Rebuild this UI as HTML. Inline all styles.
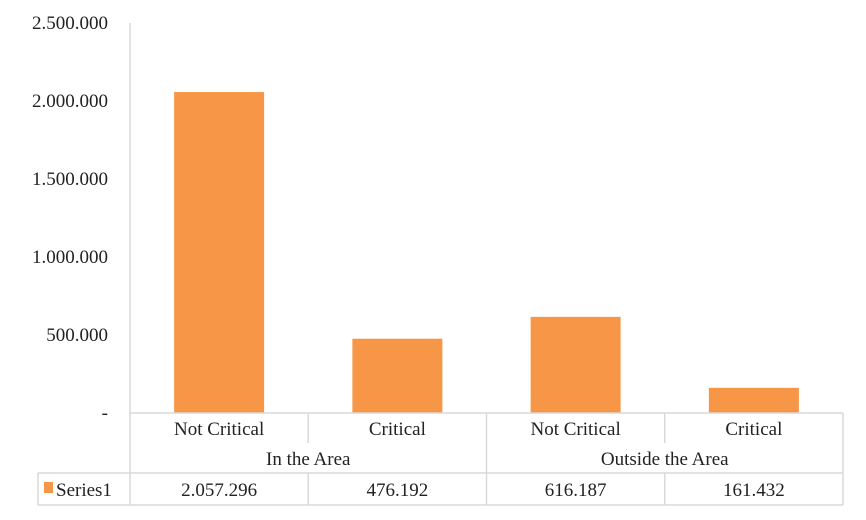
<!DOCTYPE html>
<html><head><meta charset="utf-8"><style>
body{margin:0;background:#fff;}
svg text{font-family:"Liberation Serif",serif;font-size:19px;fill:#222;}
</style></head><body>
<svg width="866" height="515">
<g id="axes"></g><g id="bars"></g><g id="table"></g>
</svg>
<script>
const categories=["Not Critical","Critical","Not Critical","Critical"];
const groups=["In the Area","Outside the Area"];
const values=[2057296,476192,616187,161432];
const valueLabels=["2.057.296","476.192","616.187","161.432"];
const ticks=[0,500000,1000000,1500000,2000000,2500000];
const tickLabels=["-","500.000","1.000.000","1.500.000","2.000.000","2.500.000"];
const NS="http://www.w3.org/2000/svg";
const x0=130,colW=178.25,y0=413,yTop=23,maxV=2500000;
const y=v=>y0-(v/maxV)*(y0-yTop);
const xc=i=>x0+colW*i+colW/2;
function mk(tag,attrs,parent,text){const e=document.createElementNS(NS,tag);for(const k in attrs)e.setAttribute(k,attrs[k]);if(text!==undefined)e.textContent=text;parent.appendChild(e);return e;}
const axes=document.getElementById('axes'),bars=document.getElementById('bars'),table=document.getElementById('table');
let l=mk('line',{x1:x0,x2:x0,y1:yTop,y2:y0,stroke:'#d9d9d9','stroke-width':1.5},axes);


ticks.forEach((t,i)=>{
 const tx=mk('text',{x:108,y:y(t)+6,'text-anchor':'end'},axes,tickLabels[i]);
 
 
});
values.forEach((v,i)=>{
 const r=mk('rect',{x:xc(i)-45,y:y(v),width:90,height:y0-y(v),fill:'#f79646'},bars);
 
 
});
const st={stroke:'#d9d9d9','stroke-width':1.5};
const xe=x0+colW*4;
mk('line',Object.assign({x1:x0,x2:xe,y1:y0,y2:y0},st),table);
mk('line',Object.assign({x1:38,x2:xe,y1:473,y2:473},st),table);
mk('line',Object.assign({x1:38,x2:xe,y1:505,y2:505},st),table);
mk('line',Object.assign({x1:38,x2:38,y1:473,y2:505},st),table);
mk('line',Object.assign({x1:xe,x2:xe,y1:y0,y2:505},st),table);
mk('line',Object.assign({x1:x0,x2:x0,y1:y0,y2:505},st),table);
mk('line',Object.assign({x1:x0+colW*2,x2:x0+colW*2,y1:y0,y2:505},st),table);
mk('line',Object.assign({x1:x0+colW,x2:x0+colW,y1:y0,y2:443},st),table);
mk('line',Object.assign({x1:x0+colW*3,x2:x0+colW*3,y1:y0,y2:443},st),table);
mk('line',Object.assign({x1:x0+colW,x2:x0+colW,y1:473,y2:505},st),table);
mk('line',Object.assign({x1:x0+colW*3,x2:x0+colW*3,y1:473,y2:505},st),table);
categories.forEach((c,i)=>{
 const t=mk('text',{x:xc(i),y:435,'text-anchor':'middle'},table,c);
 
 
 const v=mk('text',{x:xc(i),y:496,'text-anchor':'middle'},table,valueLabels[i]);
 
 
});
groups.forEach((g,i)=>{
 const t=mk('text',{x:x0+colW*(2*i+1),y:465,'text-anchor':'middle'},table,g);
 
 
});
const key=mk('rect',{x:44,y:482,width:9,height:11,fill:'#f79646'},table);


const sl=mk('text',{x:56,y:496},table,'Series1');


</script>
</body></html>
